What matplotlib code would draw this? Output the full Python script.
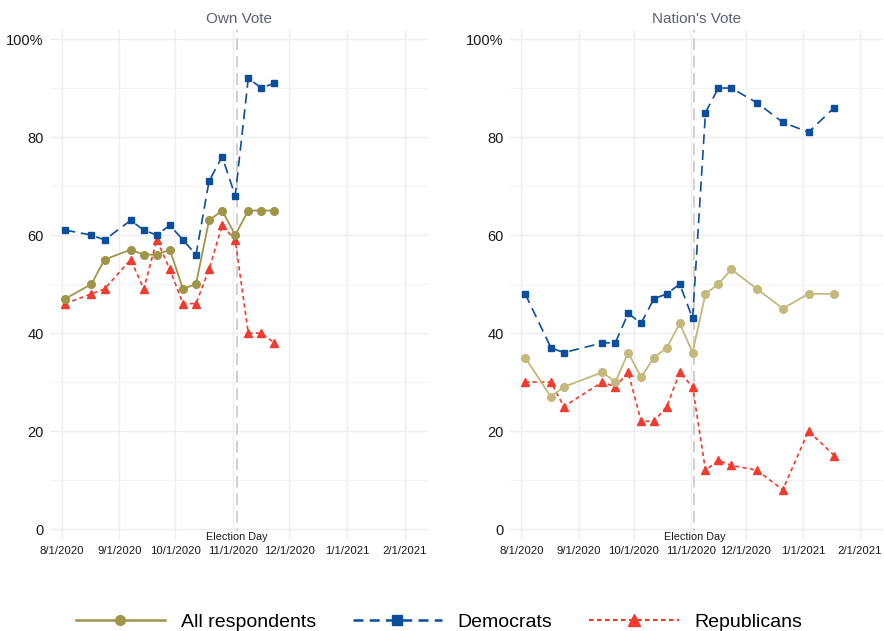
import datetime as dt
import matplotlib
matplotlib.use("Agg")
import matplotlib.pyplot as plt
from matplotlib.ticker import MultipleLocator
from matplotlib.lines import Line2D

# ---- data -------------------------------------------------------------
own_dates = ["2020-08-03", "2020-08-17", "2020-08-24", "2020-09-07", "2020-09-14",
             "2020-09-21", "2020-09-28", "2020-10-05", "2020-10-12", "2020-10-19",
             "2020-10-26", "2020-11-02", "2020-11-09", "2020-11-16", "2020-11-23"]
own_all = [47, 50, 55, 57, 56, 56, 57, 49, 50, 63, 65, 60, 65, 65, 65]
own_dem = [61, 60, 59, 63, 61, 60, 62, 59, 56, 71, 76, 68, 92, 90, 91]
own_rep = [46, 48, 49, 55, 49, 59, 53, 46, 46, 53, 62, 59, 40, 40, 38]

nation_dates = ["2020-08-03", "2020-08-17", "2020-08-24", "2020-09-14", "2020-09-21",
                "2020-09-28", "2020-10-05", "2020-10-12", "2020-10-19", "2020-10-26",
                "2020-11-02", "2020-11-09", "2020-11-16", "2020-11-23", "2020-12-07",
                "2020-12-21", "2021-01-04", "2021-01-18"]
nation_all = [35, 27, 29, 32, 30, 36, 31, 35, 37, 42, 36, 48, 50, 53, 49, 45, 48, 48]
nation_dem = [48, 37, 36, 38, 38, 44, 42, 47, 48, 50, 43, 85, 90, 90, 87, 83, 81, 86]
nation_rep = [30, 30, 25, 30, 29, 32, 22, 22, 25, 32, 29, 12, 14, 13, 12, 8, 20, 15]

panel_titles = ["Own Vote", "Nation's Vote"]
series_names = ["All respondents", "Democrats", "Republicans"]
month_ticks = ["2020-08-01", "2020-09-01", "2020-10-01", "2020-11-01",
               "2020-12-01", "2021-01-01", "2021-02-01"]
month_labels = ["8/1/2020", "9/1/2020", "10/1/2020", "11/1/2020",
                "12/1/2020", "1/1/2021", "2/1/2021"]
y_ticks = [0, 20, 40, 60, 80, 100]
y_labels = ["0", "20", "40", "60", "80", "100%"]
election_day = "2020-11-03"
election_label = "Election Day"

# ---- styling ----------------------------------------------------------
plt.rcParams["font.family"] = ["Liberation Sans", "DejaVu Sans"]

C_DEM = "#0b4f9c"
C_REP = "#f03b2f"
C_ALL_OWN = "#9f9548"
C_ALL_NAT = "#c4b87b"
GRID = "#eeeeee"
TITLE_C = "#5a6176"


def to_dates(seq):
    return [dt.datetime.strptime(s, "%Y-%m-%d") for s in seq]


fig = plt.figure(figsize=(8.84, 6.31), dpi=100)
ax_b = 0.1445
ax_h = 0.8076
axes = [fig.add_axes([0.0566, ax_b, 0.4276, ax_h]),
        fig.add_axes([0.5770, ax_b, 0.4215, ax_h])]

x0 = dt.datetime(2020, 8, 1) - dt.timedelta(days=6.2)
x1 = dt.datetime(2020, 8, 1) + dt.timedelta(days=196.3)

panels = [
    (own_dates, own_all, own_dem, own_rep, C_ALL_OWN),
    (nation_dates, nation_all, nation_dem, nation_rep, C_ALL_NAT),
]

for ax, title, (dates, s_all, s_dem, s_rep, c_all) in zip(axes, panel_titles, panels):
    d = to_dates(dates)
    ax.set_xlim(x0, x1)
    ax.set_ylim(-2.2, 101.8)

    for sp in ax.spines.values():
        sp.set_visible(False)

    # axes ticks and grid
    ax.set_yticks(y_ticks)
    ax.set_yticklabels(y_labels, fontsize=10.5, color="#1a1a1a")
    ax.yaxis.set_minor_locator(MultipleLocator(10))
    ax.set_xticks(to_dates(month_ticks))
    ax.set_xticklabels(month_labels, fontsize=8.2, color="#1a1a1a")
    ax.tick_params(axis="both", which="both", length=0)
    ax.tick_params(axis="y", pad=4.5)
    ax.tick_params(axis="x", pad=4.5)
    ax.grid(True, which="major", color=GRID, lw=1.0)
    ax.grid(True, which="minor", axis="y", color="#f4f4f4", lw=0.8)
    ax.set_axisbelow(True)

    # election day marker
    ed = to_dates([election_day])[0]
    ax.axvline(ed, color="#cfcfcf", lw=1.4, dashes=(6, 3), zorder=1)
    ax.text(ed, -1.7, election_label, ha="center", va="center", fontsize=7.8,
            color="#1a1a1a", zorder=2, clip_on=False,
            bbox=dict(boxstyle="square,pad=0.15", fc="white", ec="none"))

    ax.plot(d, s_rep, color=C_REP, lw=1.2, dashes=(2.5, 2), marker="^", ms=6,
            zorder=3)
    ax.plot(d, s_dem, color=C_DEM, lw=1.2, dashes=(6, 3.5), marker="s", ms=5,
            zorder=4)
    ax.plot(d, s_all, color=c_all, lw=1.3, marker="o", ms=5.5, zorder=5)

    ax.set_title(title, fontsize=11, color=TITLE_C, pad=5)

handles = [
    Line2D([], [], color=C_ALL_OWN, lw=1.8, marker="o", ms=7),
    Line2D([], [], color=C_DEM, lw=1.8, dashes=(4, 2.5), marker="s", ms=7),
    Line2D([], [], color=C_REP, lw=1.6, dashes=(2, 1.6), marker="^", ms=8),
]
fig.legend(handles, series_names, loc="center", bbox_to_anchor=(0.4966, 0.0143),
           ncol=3, frameon=False, fontsize=14, handlelength=4.6,
           handletextpad=0.8, columnspacing=1.9, numpoints=1)

fig.savefig("out.png", dpi=100)
